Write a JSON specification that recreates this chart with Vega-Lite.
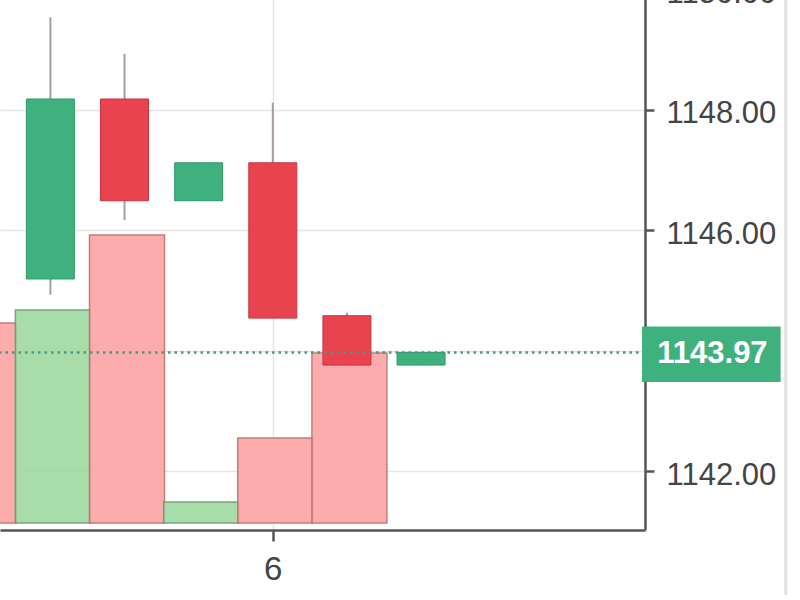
{
  "$schema": "https://vega.github.io/schema/vega-lite/v6.json",
  "width": 645,
  "height": 555,
  "autosize": {"type": "none"},
  "padding": {"left": 0, "top": -25, "right": 155, "bottom": 70},
  "background": "white",
  "config": {
    "view": {"stroke": null},
    "font": "Liberation Sans"
  },
  "datasets": {
    "candles": [
      {"t": 3, "open": 1145.19, "high": 1149.54, "low": 1144.93, "close": 1148.18, "dir": "up"},
      {"t": 4, "open": 1148.18, "high": 1148.93, "low": 1146.17, "close": 1146.49, "dir": "down"},
      {"t": 5, "open": 1146.49, "high": 1147.12, "low": 1146.49, "close": 1147.12, "dir": "up"},
      {"t": 6, "open": 1147.12, "high": 1148.12, "low": 1144.54, "close": 1144.54, "dir": "down"},
      {"t": 7, "open": 1144.58, "high": 1144.63, "low": 1143.76, "close": 1143.76, "dir": "down"},
      {"t": 8, "open": 1143.76, "high": 1143.97, "low": 1143.76, "close": 1143.97, "dir": "up"}
    ],
    "volume": [
      {"t": 2, "vol": 2000, "dir": "down"},
      {"t": 3, "vol": 2130, "dir": "up"},
      {"t": 4, "vol": 2880, "dir": "down"},
      {"t": 5, "vol": 210, "dir": "up"},
      {"t": 6, "vol": 850, "dir": "down"},
      {"t": 7, "vol": 1700, "dir": "down"}
    ],
    "last": [
      {"price": 1143.97, "label": "1143.97", "boxTop": 1144.4, "boxBottom": 1143.48, "boxLeft": 10.98, "boxRight": 12.85, "labelX": 11.93}
    ]
  },
  "resolve": {"scale": {"y": "independent"}},
  "layer": [
    {
      "data": {"name": "volume"},
      "mark": {"type": "bar", "size": 75, "xOffset": 2.5, "strokeWidth": 1.5, "opacity": 0.9},
      "encoding": {
        "x": {"field": "t", "type": "quantitative", "scale": {"domain": [2.388, 10.953], "nice": false, "zero": false},
          "axis": {"orient": "bottom", "values": [6], "format": "d", "grid": true, "gridColor": "#e6e6e6", "gridWidth": 1.5,
            "domainColor": "#555555", "domainWidth": 2.5, "tickColor": "#555555", "tickWidth": 2.5, "tickSize": 11,
            "labelFontSize": 33, "labelColor": "#444444", "labelPadding": 12, "title": null}},
        "y": {"field": "vol", "type": "quantitative", "scale": {"domain": [-70, 5480], "nice": false, "zero": false}, "axis": null},
        "y2": {"datum": 0},
        "fill": {"condition": {"test": "datum.dir === 'up'", "value": "#9fd9a2"}, "value": "#fca4a4"},
        "stroke": {"condition": {"test": "datum.dir === 'up'", "value": "#6b9e70"}, "value": "#b97070"}
      }
    },
    {
      "layer": [
        {
          "data": {"name": "candles"},
          "mark": {"type": "rule", "strokeWidth": 2, "color": "#a99c9e"},
          "encoding": {
            "x": {"field": "t", "type": "quantitative"},
            "y": {"field": "low", "type": "quantitative", "scale": {"domain": [1141.02, 1150.24], "nice": false, "zero": false},
              "axis": {"orient": "right", "values": [1142, 1144, 1146, 1148, 1150],
                "labelExpr": "datum.value == 1144 ? '' : format(datum.value, '.2f')",
                "grid": true, "gridColor": "#e6e6e6", "gridWidth": 1.5,
                "domainColor": "#555555", "domainWidth": 2.5, "tickColor": "#555555", "tickWidth": 2.5, "tickSize": 9,
                "labelFontSize": 31, "labelColor": "#444444", "labelPadding": 12, "labelOffset": 4,
                "labelOverlap": false, "labelFlush": false, "labelBound": false, "title": null}},
            "y2": {"field": "high"}
          }
        },
        {
          "data": {"name": "candles"},
          "mark": {"type": "bar", "size": 48, "strokeWidth": 1},
          "encoding": {
            "x": {"field": "t", "type": "quantitative"},
            "y": {"field": "open", "type": "quantitative"},
            "y2": {"field": "close"},
            "fill": {"condition": {"test": "datum.dir === 'up'", "value": "#3fb17f"}, "value": "#e8434f"},
            "stroke": {"condition": {"test": "datum.dir === 'up'", "value": "#2f9868"}, "value": "#c9343f"}
          }
        },
        {
          "data": {"name": "last"},
          "mark": {"type": "rule", "strokeWidth": 2.5, "strokeDash": [2.5, 4], "color": "#4b9a80"},
          "encoding": {
            "y": {"field": "price", "type": "quantitative"}
          }
        },
        {
          "data": {"name": "last"},
          "mark": {"type": "rect", "color": "#3fb17f"},
          "encoding": {
            "x": {"field": "boxLeft", "type": "quantitative"},
            "x2": {"field": "boxRight"},
            "y": {"field": "boxTop", "type": "quantitative"},
            "y2": {"field": "boxBottom"}
          }
        },
        {
          "data": {"name": "last"},
          "mark": {"type": "text", "color": "white", "fontSize": 31, "fontWeight": "bold", "align": "center", "baseline": "middle", "dy": 2},
          "encoding": {
            "x": {"field": "labelX", "type": "quantitative"},
            "y": {"field": "price", "type": "quantitative"},
            "text": {"field": "label"}
          }
        },
        {
          "data": {"name": "last"},
          "mark": {"type": "rule", "strokeWidth": 3, "color": "#e2e2e2"},
          "encoding": {
            "x": {"datum": 12.92},
            "y": {"datum": 1150.24},
            "y2": {"datum": 1139.94}
          }
        }
      ]
    }
  ]
}
